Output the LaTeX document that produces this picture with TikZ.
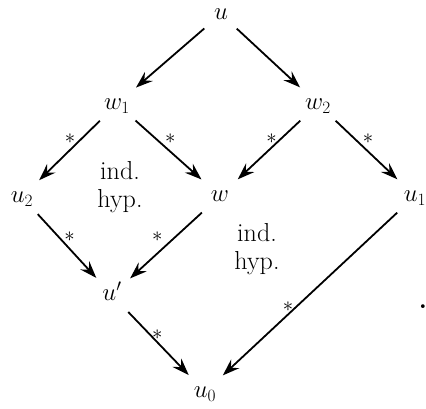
\documentclass[tikz,border=0pt]{standalone}
\usepackage{amsmath}
\usetikzlibrary{arrows.meta}

\begin{document}
\begin{tikzpicture}
	[x=1pt,y=-1pt,every node/.style={font=\fontsize{26}{28}\selectfont, inner sep=0pt}]
	\tikzstyle{vertex} = [minimum width=40pt, minimum height=22pt, text height=11pt, text depth=0pt];
	\tikzstyle{edges} = [line width=1.8pt, shorten <=8pt, shorten >=8pt, -{Stealth[length=17pt,width=12pt,inset=6pt]}];
	\tikzstyle{lbl} = [font=\fontsize{20}{20}\selectfont];
	\useasboundingbox (0,0) rectangle (426,408);
	
	\node[vertex] (u) at (221,14) {$u$};
	\node[vertex] (w1) at (117,104) {$w_1$};
	\node[vertex] (w2) at (318,104) {$w_2$};
	\node[vertex] (u2) at (22,197) {$u_2$};
	\node[vertex] (w) at (220,196) {$w$};
	\node[vertex] (u1) at (415,196) {$u_1$};
	\node[vertex] (up) at (112,295) {$u'$};
	\node[vertex] (u0) at (205,392) {$u_0$};
	
	\node[align=center] (hyp1) at (120,187.5) {ind.\\hyp.};
	\node[align=center] (hyp2) at (257,249.5) {ind.\\hyp.};
	\node (dot) at (423,307) {\textbf{.}};
	
	\draw[edges, shorten <=5pt] (u) -- (w1);
	\draw[edges, shorten <=5pt] (u) -- (w2);
	\draw[edges] (w1) -- node[lbl, pos=0.338, xshift=-11pt] {$*$} (u2);
	\draw[edges] (w1) -- node[lbl, pos=0.343, xshift=14pt] {$*$} (w);
	\draw[edges] (w2) -- node[lbl, pos=0.343, xshift=-9pt] {$*$} (w);
	\draw[edges] (w2) -- node[lbl, pos=0.343, xshift=13pt] {$*$} (u1);
	\draw[edges] (u2) -- node[lbl, pos=0.38, xshift=11pt] {$*$} (up);
	\draw[edges] (w) -- node[lbl, pos=0.39, xshift=-18pt] {$*$} (up);
	\draw[edges] (up) -- node[lbl, pos=0.387, xshift=7pt] {$*$} (u0);
	\draw[edges] (u1) -- node[lbl, pos=0.575, xshift=-8pt] {$*$} (u0);
\end{tikzpicture}
\end{document}
